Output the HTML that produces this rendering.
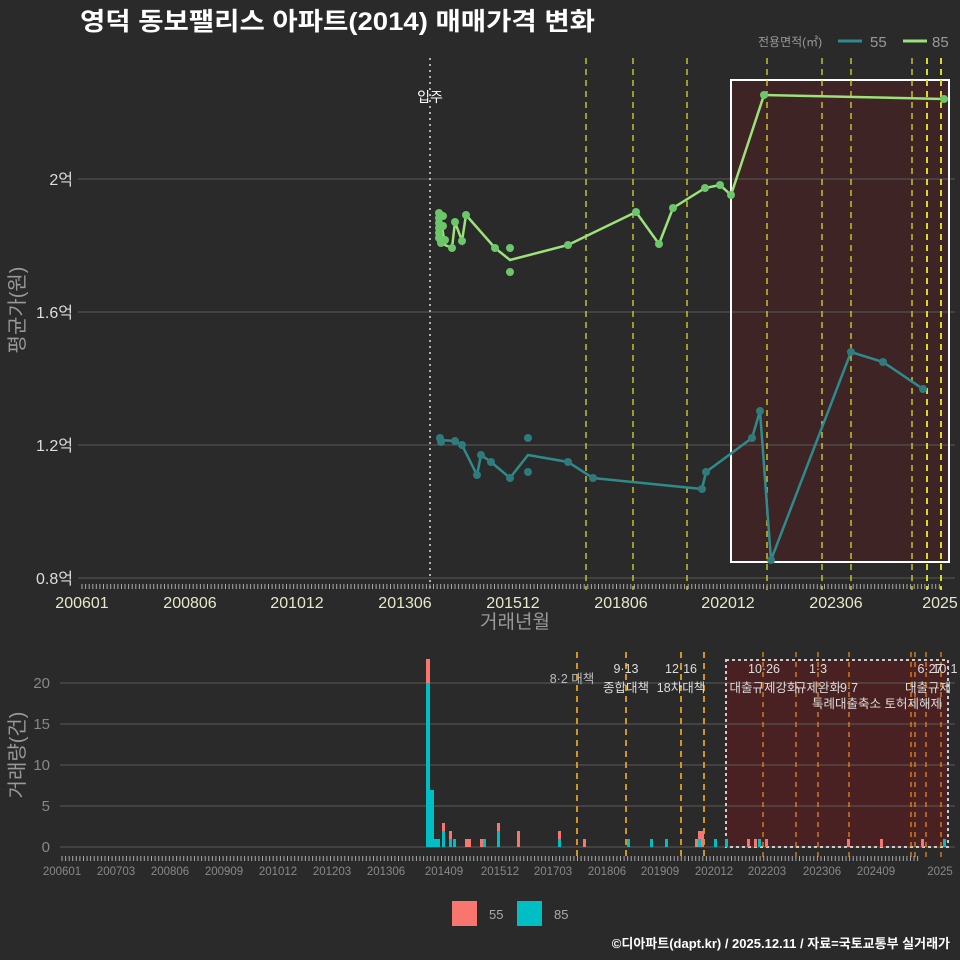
<!DOCTYPE html>
<html><head><meta charset="utf-8"><style>
html,body{margin:0;padding:0;background:#2a2a2b;}
svg{display:block;font-family:"Liberation Sans","Noto Sans CJK KR",sans-serif;}
</style></head><body>
<svg width="960" height="960" viewBox="0 0 960 960" xmlns="http://www.w3.org/2000/svg">
<rect width="960" height="960" fill="#2a2a2b"/>
<text x="80" y="30" fill="#fff" font-size="25" font-weight="bold" textLength="515" lengthAdjust="spacingAndGlyphs">영덕 동보팰리스 아파트(2014) 매매가격 변화</text>
<text x="758" y="46" fill="#999" font-size="12">전용면적(㎡)</text>
<line x1="838" y1="41" x2="862" y2="41" stroke="#2e8b8b" stroke-width="3"/>
<text x="870" y="47" fill="#999" font-size="15">55</text>
<line x1="903" y1="41" x2="927" y2="41" stroke="#9be27a" stroke-width="3"/>
<text x="932" y="47" fill="#999" font-size="15">85</text>

<!-- top chart -->
<rect x="731" y="80" width="218" height="482" fill="#3f2426"/>
<g stroke="#5a5a5a" stroke-width="1">
<line x1="78" y1="179" x2="955" y2="179"/><line x1="78" y1="312" x2="955" y2="312"/>
<line x1="78" y1="445" x2="955" y2="445"/><line x1="78" y1="578" x2="955" y2="578"/>
</g>
<rect x="731" y="80" width="218" height="482" fill="none" stroke="#fff" stroke-width="2"/>
<line x1="430" y1="58" x2="430" y2="590" stroke="#ddd" stroke-width="1.5" stroke-dasharray="2,4"/>
<text x="430" y="102" fill="#fff" font-size="14" text-anchor="middle">입주</text>
<g stroke="#d9d92a" stroke-width="1.3" stroke-dasharray="6,5">
<line x1="586" y1="58" x2="586" y2="590"/><line x1="633" y1="58" x2="633" y2="590"/>
<line x1="687" y1="58" x2="687" y2="590"/><line x1="767" y1="58" x2="767" y2="590"/>
<line x1="822" y1="58" x2="822" y2="590"/><line x1="851" y1="58" x2="851" y2="590"/>
<line x1="912" y1="58" x2="912" y2="590"/><line x1="927" y1="58" x2="927" y2="590" stroke-width="2"/>
<line x1="941" y1="58" x2="941" y2="590" stroke-width="2"/>
</g>
<g fill="#ddd" font-size="16" text-anchor="end">
<text x="73" y="185">2억</text><text x="73" y="318">1.6억</text><text x="73" y="451">1.2억</text><text x="73" y="584">0.8억</text>
</g>
<g fill="#e8e8c8" font-size="16" text-anchor="middle">
<text x="82" y="608">200601</text><text x="190" y="608">200806</text><text x="297" y="608">201012</text>
<text x="405" y="608">201306</text><text x="513" y="608">201512</text><text x="621" y="608">201806</text>
<text x="728" y="608">202012</text><text x="836" y="608">202306</text><text x="940" y="608">2025</text>
</g>
<text x="515" y="628" fill="#999" font-size="19" text-anchor="middle">거래년월</text>
<text transform="translate(24,310) rotate(-90)" fill="#999" font-size="20" text-anchor="middle">평균가(원)</text>

<polyline fill="none" stroke="#9be27a" stroke-width="2.5" points="440,215 445,245 452,248 455,222 462,241 466,215 495,248 510,260 568,245 636,212 659,244 673,208 705,188 720,185 731,195 764,95 944,99"/>
<g fill="#6cc66a">
<circle cx="439" cy="213" r="4"/><circle cx="439" cy="218" r="4"/><circle cx="439" cy="223" r="4"/><circle cx="439" cy="228" r="4"/><circle cx="439" cy="233" r="4"/><circle cx="439" cy="238" r="4"/><circle cx="441" cy="243" r="4"/><circle cx="443" cy="216" r="4"/><circle cx="443" cy="226" r="4"/><circle cx="445" cy="240" r="4"/>
<circle cx="452" cy="248" r="4"/><circle cx="455" cy="222" r="4"/><circle cx="462" cy="241" r="4"/><circle cx="466" cy="215" r="4"/>
<circle cx="495" cy="248" r="4"/><circle cx="510" cy="248" r="4"/><circle cx="510" cy="272" r="4"/><circle cx="568" cy="245" r="4"/>
<circle cx="636" cy="212" r="4"/><circle cx="659" cy="244" r="4"/><circle cx="673" cy="208" r="4"/><circle cx="705" cy="188" r="4"/><circle cx="720" cy="185" r="4"/><circle cx="731" cy="195" r="4"/><circle cx="764" cy="95" r="4"/><circle cx="944" cy="99" r="4"/>
</g>
<polyline fill="none" stroke="#2e8b8b" stroke-width="2.5" points="440,440 455,441 462,445 477,475 481,455 491,462 510,478 528,455 568,462 593,478 702,489 706,472 752,438 760,411 771,560 851,352 883,362 923,389"/>
<g fill="#2f7b7b">
<circle cx="440" cy="438" r="4"/><circle cx="441" cy="442" r="4"/><circle cx="455" cy="441" r="4"/><circle cx="462" cy="445" r="4"/><circle cx="477" cy="475" r="4"/><circle cx="481" cy="455" r="4"/><circle cx="491" cy="462" r="4"/><circle cx="510" cy="478" r="4"/><circle cx="528" cy="438" r="4"/><circle cx="528" cy="472" r="4"/><circle cx="568" cy="462" r="4"/><circle cx="593" cy="478" r="4"/><circle cx="702" cy="489" r="4"/><circle cx="706" cy="472" r="4"/><circle cx="752" cy="438" r="4"/><circle cx="760" cy="411" r="4"/><circle cx="771" cy="560" r="4"/><circle cx="851" cy="352" r="4"/><circle cx="883" cy="362" r="4"/><circle cx="923" cy="389" r="4"/>
</g>

<!-- bottom chart -->
<rect x="726" y="660" width="222" height="187" fill="#4a2122"/>
<g stroke="#5a5a5a" stroke-width="1">
<line x1="60" y1="683" x2="955" y2="683"/><line x1="60" y1="724" x2="955" y2="724"/><line x1="60" y1="765" x2="955" y2="765"/><line x1="60" y1="806" x2="955" y2="806"/><line x1="60" y1="847" x2="955" y2="847"/>
</g>
<rect x="726" y="660" width="222" height="187" fill="none" stroke="#ccc" stroke-width="2" stroke-dasharray="3,3"/>
<g stroke="#e6a020" stroke-width="1.8" stroke-dasharray="6,5">
<line x1="577" y1="652" x2="577" y2="858"/><line x1="626" y1="652" x2="626" y2="858"/><line x1="681" y1="652" x2="681" y2="858"/><line x1="704" y1="652" x2="704" y2="858"/>
</g>
<g stroke="#f0901e" stroke-width="1.2" stroke-dasharray="5,5">
<line x1="763" y1="652" x2="763" y2="858"/><line x1="796" y1="652" x2="796" y2="858"/><line x1="818" y1="652" x2="818" y2="858"/><line x1="849" y1="652" x2="849" y2="858"/><line x1="911" y1="652" x2="911" y2="858"/><line x1="915" y1="652" x2="915" y2="858"/><line x1="926" y1="652" x2="926" y2="858"/><line x1="941" y1="652" x2="941" y2="858"/>
</g>
<g fill="#ddd" font-size="12.5" text-anchor="middle">
<text x="572" y="683" fill="#bbb">8·2 대책</text>
<text x="626" y="673">9·13</text><text x="626" y="692">종합대책</text>
<text x="681" y="673">12·16</text><text x="681" y="692">18차대책</text>
<text x="764" y="673">10·26</text><text x="764" y="692">대출규제강화</text>
<text x="818" y="673">1·3</text><text x="818" y="692">규제완화</text>
<text x="849" y="692">9·7</text><text x="877" y="708">특례대출축소 토허제해제</text>
<text x="930" y="673">6·27</text><text x="945" y="673">10·1</text><text x="928" y="692">대출규제</text>
</g>
<g fill="#00bfc4">
<rect x="426" y="683" width="4" height="164"/><rect x="430" y="790" width="4" height="57"/><rect x="434" y="839" width="3" height="8"/><rect x="437" y="839" width="3" height="8"/>
<rect x="442" y="831" width="3" height="16"/><rect x="449" y="839" width="3" height="8"/><rect x="453" y="839" width="3" height="8"/><rect x="483" y="839" width="3" height="8"/>
<rect x="497" y="831" width="3" height="16"/><rect x="558" y="839" width="3" height="8"/><rect x="627" y="839" width="3" height="8"/><rect x="650" y="839" width="3" height="8"/>
<rect x="665" y="839" width="3" height="8"/><rect x="698" y="839" width="3" height="8"/><rect x="714" y="839" width="3" height="8"/><rect x="725" y="839" width="3" height="8"/>
<rect x="758" y="839" width="3" height="8"/><rect x="943" y="839" width="3" height="8"/>
</g>
<g fill="#f8766d">
<rect x="426" y="659" width="4" height="24"/><rect x="442" y="823" width="3" height="8"/><rect x="449" y="831" width="3" height="8"/>
<rect x="465" y="839" width="3" height="8"/><rect x="468" y="839" width="3" height="8"/><rect x="480" y="839" width="3" height="8"/>
<rect x="497" y="823" width="3" height="8"/><rect x="517" y="831" width="3" height="16"/><rect x="558" y="831" width="3" height="8"/>
<rect x="583" y="839" width="3" height="8"/><rect x="695" y="839" width="3" height="8"/><rect x="698" y="831" width="3" height="8"/><rect x="701" y="831" width="3" height="16"/>
<rect x="747" y="839" width="3" height="8"/><rect x="754" y="839" width="3" height="8"/><rect x="765" y="839" width="3" height="8"/>
<rect x="847" y="839" width="3" height="8"/><rect x="880" y="839" width="3" height="8"/><rect x="921" y="839" width="3" height="8"/>
</g>
<g fill="#888" font-size="15" text-anchor="end">
<text x="50" y="688">20</text><text x="50" y="729">15</text><text x="50" y="770">10</text><text x="50" y="811">5</text><text x="50" y="852">0</text>
</g>
<g fill="#888" font-size="11.5" text-anchor="middle">
<text x="62" y="875">200601</text><text x="116" y="875">200703</text><text x="170" y="875">200806</text><text x="224" y="875">200909</text>
<text x="278" y="875">201012</text><text x="332" y="875">201203</text><text x="386" y="875">201306</text><text x="444" y="875">201409</text>
<text x="500" y="875">201512</text><text x="553" y="875">201703</text><text x="607" y="875">201806</text><text x="660" y="875">201909</text>
<text x="714" y="875">202012</text><text x="767" y="875">202203</text><text x="822" y="875">202306</text><text x="876" y="875">202409</text><text x="940" y="875">2025</text>
</g>
<text transform="translate(24,755) rotate(-90)" fill="#999" font-size="20" text-anchor="middle">거래량(건)</text>

<rect x="452" y="901" width="25" height="25" fill="#f8766d"/><text x="489" y="919" fill="#aaa" font-size="13">55</text>
<rect x="517" y="901" width="25" height="25" fill="#00bfc4"/><text x="554" y="919" fill="#aaa" font-size="13">85</text>
<text x="950" y="948" fill="#fff" font-size="13" font-weight="bold" text-anchor="end">©디아파트(dapt.kr) / 2025.12.11 / 자료=국토교통부 실거래가</text>
<path id="tk" d="" stroke="#aaa" stroke-width="1"/>
<path id="tk2" d="" stroke="#aaa" stroke-width="1"/>
</svg>
<script>
var d="",d2="";
for(var m=0;m<240;m++){var x=(82+3.587*m).toFixed(1);d+="M"+x+" 584V589";var x2=(62+3.58*m).toFixed(1);d2+="M"+x2+" 856V861";}
document.getElementById("tk").setAttribute("d",d);
document.getElementById("tk2").setAttribute("d",d2);
</script>
</body></html>
